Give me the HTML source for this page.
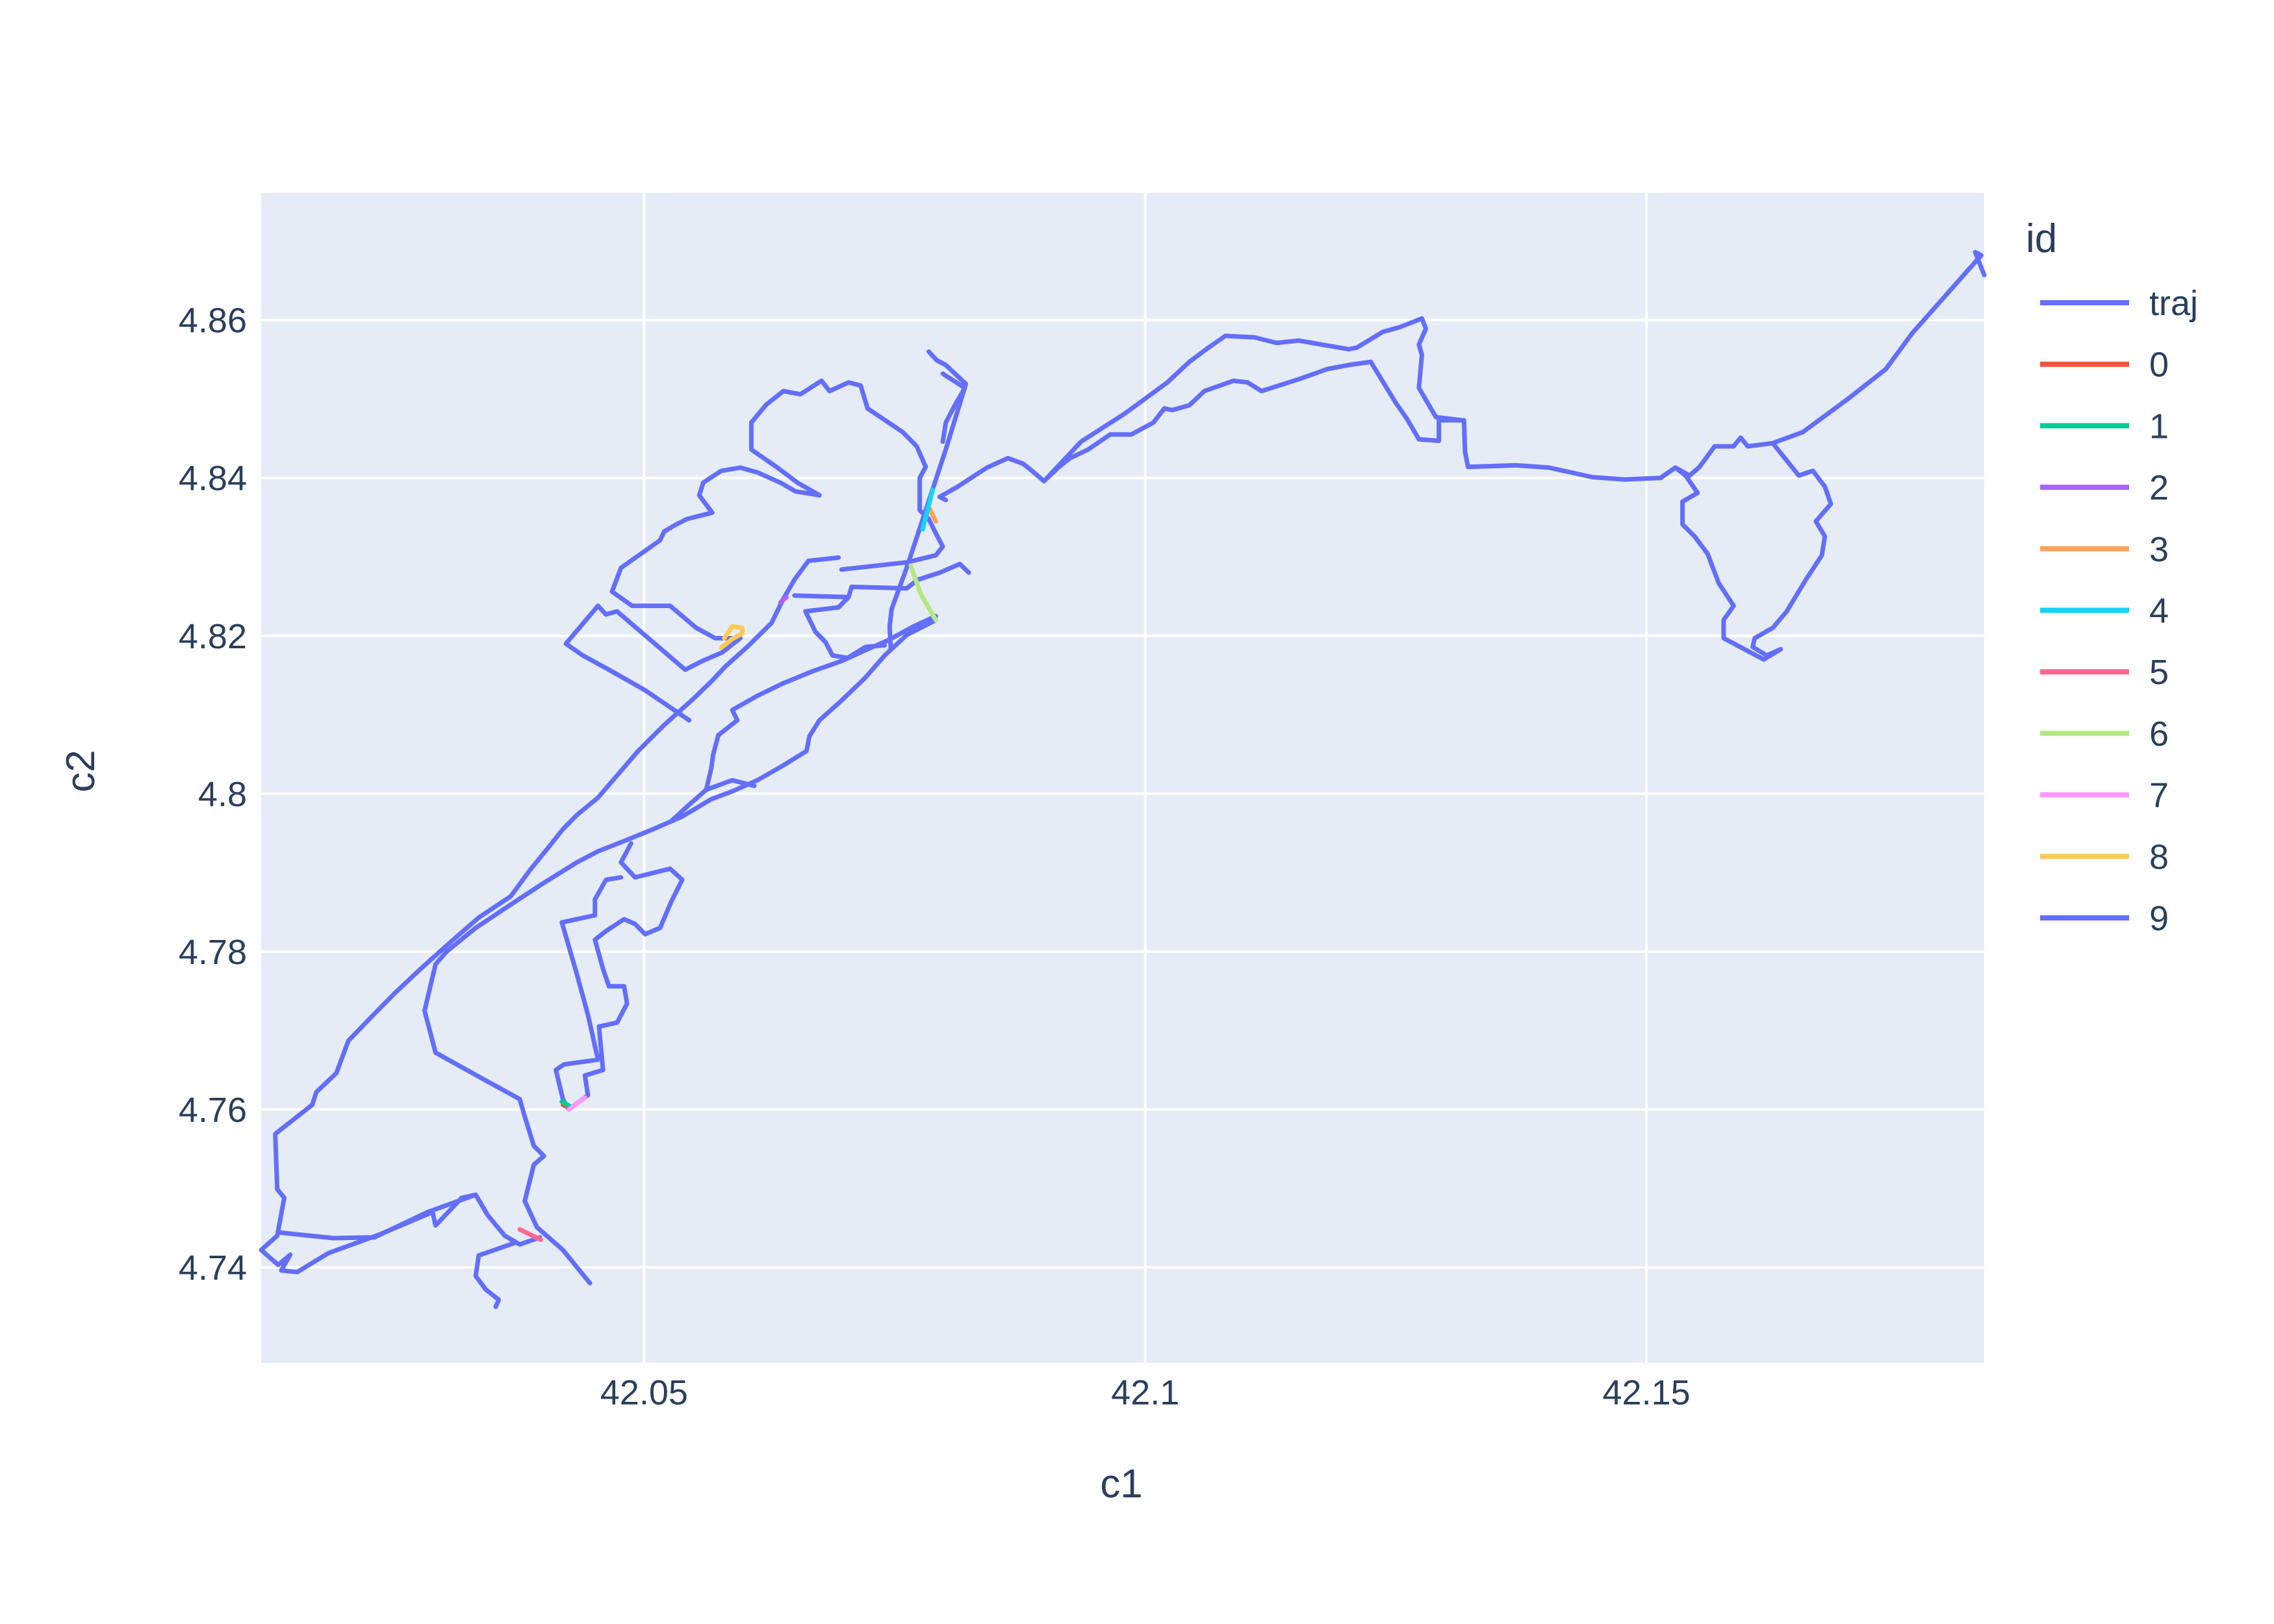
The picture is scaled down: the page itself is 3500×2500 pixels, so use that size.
<!DOCTYPE html>
<html><head><meta charset="utf-8"><style>
html,body{margin:0;padding:0;background:#fff;}
svg{display:block;font-family:"Liberation Sans",sans-serif;}
</style></head><body>
<svg id="chart" width="3500" height="2500" xmlns="http://www.w3.org/2000/svg">
<rect x="402" y="297" width="2652" height="1801" fill="#E5ECF6"/>
<g id="grid"></g>
<g id="xticks"></g>
<g id="yticks"></g>
<g id="series"></g>
<text x="1726" y="2305" font-size="62" fill="#2a3f5f" text-anchor="middle">c1</text>
<text x="145" y="1187" font-size="62" fill="#2a3f5f" text-anchor="middle" transform="rotate(-90 145 1187)">c2</text>
<text x="3118" y="388" font-size="62" fill="#2a3f5f">id</text>
<g id="legend"></g>
</svg>
<script>
const xTicks=[42.05,42.1,42.15];
const xTickLabels=["42.05","42.1","42.15"];
const yTicks=[4.74,4.76,4.78,4.8,4.82,4.84,4.86];
const yTickLabels=["4.74","4.76","4.78","4.8","4.82","4.84","4.86"];
const legendIds=["traj","0","1","2","3","4","5","6","7","8","9"];
const legendColors=["#636efa","#EF553B","#00cc96","#ab63fa","#FFA15A","#19d3f3","#FF6692","#B6E880","#FF97FF","#FECB52","#636efa"];

const trajEast=[[42.1837,4.8657],[42.1828,4.8686],[42.1834,4.8682],[42.1797,4.8629],[42.1765,4.8583],[42.1739,4.8538],[42.1702,4.8501],[42.1656,4.8458],[42.1626,4.8444],[42.1652,4.8403],[42.1666,4.8409],[42.1678,4.8389],[42.1684,4.8367],[42.1669,4.8345],[42.1678,4.8326],[42.1675,4.8302],[42.1659,4.8271],[42.1640,4.8231],[42.1626,4.8210],[42.1608,4.8197],[42.1606,4.8186],[42.1620,4.8175],[42.1634,4.8183],[42.1617,4.8170],[42.1577,4.8197],[42.1577,4.8220],[42.1587,4.8238],[42.1572,4.8267],[42.1561,4.8304],[42.1548,4.8326],[42.1536,4.8341],[42.1536,4.8370],[42.1551,4.8381],[42.1539,4.8403],[42.1529,4.8413],[42.1514,4.8400],[42.1478,4.8398],[42.1446,4.8401],[42.1403,4.8413],[42.1370,4.8416],[42.1322,4.8414],[42.1319,4.8433],[42.1318,4.8473],[42.1293,4.8473],[42.1293,4.8447],[42.1273,4.8449],[42.1261,4.8475],[42.1250,4.8495],[42.1225,4.8547],[42.1203,4.8543],[42.1182,4.8538],[42.1153,4.8525],[42.1116,4.8510],[42.1102,4.8521],[42.1088,4.8523],[42.1059,4.8510],[42.1044,4.8492],[42.1027,4.8486],[42.1019,4.8488],[42.1008,4.8470],[42.0986,4.8455],[42.0965,4.8455],[42.0943,4.8436],[42.0925,4.8425],[42.0914,4.8414],[42.0899,4.8396],[42.0885,4.8411],[42.0878,4.8418],[42.0863,4.8425],[42.0842,4.8413],[42.0813,4.8389],[42.0795,4.8376]];
const trajEastLink=[[42.1514,4.8400],[42.1529,4.8413],[42.1543,4.8403],[42.1553,4.8414],[42.1568,4.8440],[42.1587,4.8440],[42.1594,4.8451],[42.1601,4.8440],[42.1626,4.8444]];
const trajCoast=[[42.0899,4.8396],[42.0936,4.8446],[42.0979,4.8481],[42.1022,4.8521],[42.1044,4.8547],[42.1063,4.8565],[42.1080,4.8580],[42.1109,4.8578],[42.1131,4.8571],[42.1153,4.8574],[42.1203,4.8563],[42.1211,4.8565],[42.1237,4.8585],[42.1254,4.8591],[42.1276,4.8602],[42.1280,4.8589],[42.1273,4.8569],[42.1276,4.8556],[42.1273,4.8514],[42.1290,4.8477],[42.1316,4.8473]];
const trajNorthLine=[[42.0784,4.8560],[42.0792,4.8549],[42.0801,4.8543],[42.0821,4.8519],[42.0801,4.8436],[42.0781,4.8359],[42.0762,4.8286],[42.0747,4.8234],[42.0745,4.8212],[42.0746,4.8185]];
const trajNorthSpur=[[42.0798,4.8532],[42.0820,4.8514],[42.0810,4.8492],[42.0801,4.8470],[42.0798,4.8446]];
const trajNorthBlob=[[42.0697,4.8284],[42.0762,4.8293],[42.0791,4.8302],[42.0798,4.8313],[42.0791,4.8330],[42.0784,4.8348],[42.0775,4.8359],[42.0775,4.8400],[42.0781,4.8414],[42.0772,4.8440],[42.0758,4.8458],[42.0723,4.8488],[42.0716,4.8517],[42.0704,4.8521],[42.0685,4.8510],[42.0677,4.8523],[42.0656,4.8506],[42.0639,4.8510],[42.0622,4.8493],[42.0607,4.8470],[42.0607,4.8436],[42.0632,4.8414],[42.0653,4.8394],[42.0675,4.8378],[42.0651,4.8383],[42.0636,4.8394],[42.0613,4.8407],[42.0596,4.8413],[42.0577,4.8409],[42.0559,4.8394],[42.0555,4.8378],[42.0568,4.8356],[42.0543,4.8348],[42.0532,4.8341],[42.0520,4.8332],[42.0516,4.8321],[42.0477,4.8286],[42.0468,4.8256],[42.0488,4.8238],[42.0526,4.8238],[42.0552,4.8210],[42.0571,4.8197],[42.0588,4.8197]];
const trajWestLoop=[[42.0596,4.8197],[42.0578,4.8179],[42.0558,4.8168],[42.0541,4.8157],[42.0473,4.8231],[42.0462,4.8227],[42.0454,4.8238],[42.0422,4.8190],[42.0439,4.8175],[42.0465,4.8157],[42.0501,4.8131],[42.0545,4.8093]];
const trajNorthwest=[[42.0694,4.8299],[42.0664,4.8295],[42.0650,4.8271],[42.0639,4.8247],[42.0627,4.8216],[42.0603,4.8186],[42.0581,4.8161],[42.0567,4.8142],[42.0549,4.8120],[42.0520,4.8087],[42.0494,4.8054],[42.0473,4.8023],[42.0454,4.7995],[42.0433,4.7973],[42.0419,4.7955],[42.0404,4.7931],[42.0386,4.7903],[42.0367,4.7870],[42.0335,4.7843],[42.0306,4.7811],[42.0277,4.7778],[42.0251,4.7747],[42.0227,4.7716],[42.0205,4.7687],[42.0193,4.7646],[42.0173,4.7622],[42.0169,4.7606],[42.0132,4.7569],[42.0134,4.7499],[42.0141,4.7488],[42.0134,4.7440],[42.0118,4.7422],[42.0135,4.7403],[42.0147,4.7416],[42.0138,4.7396],[42.0154,4.7394],[42.0185,4.7418],[42.0237,4.7442],[42.0289,4.7470],[42.0292,4.7453],[42.0318,4.7488],[42.0332,4.7492],[42.0344,4.7466],[42.0361,4.7440],[42.0376,4.7429],[42.0396,4.7438]];
const trajSouthwest=[[42.0137,4.7444],[42.0190,4.7437],[42.0231,4.7438],[42.0284,4.7470],[42.0332,4.7492]];
const trajSpur=[[42.0371,4.7431],[42.0335,4.7415],[42.0332,4.7389],[42.0342,4.7372],[42.0355,4.7359],[42.0352,4.7350]];
const trajSouth=[[42.0791,4.8220],[42.0762,4.8201],[42.0740,4.8175],[42.0720,4.8146],[42.0697,4.8118],[42.0675,4.8093],[42.0665,4.8073],[42.0662,4.8054],[42.0639,4.8036],[42.0613,4.8017],[42.0588,4.8003],[42.0567,4.7993],[42.0538,4.7971],[42.0509,4.7955],[42.0480,4.7940],[42.0454,4.7927],[42.0433,4.7913],[42.0400,4.7887],[42.0364,4.7857],[42.0332,4.7830],[42.0303,4.7800],[42.0292,4.7784],[42.0281,4.7725],[42.0292,4.7672],[42.0323,4.7650],[42.0376,4.7613],[42.0381,4.7591],[42.0390,4.7554],[42.0400,4.7541],[42.0390,4.7530],[42.0381,4.7484],[42.0393,4.7451],[42.0419,4.7422],[42.0446,4.7380]];
const trajCentral=[[42.0791,4.8225],[42.0769,4.8212],[42.0743,4.8194],[42.0723,4.8183],[42.0697,4.8168],[42.0668,4.8155],[42.0639,4.8140],[42.0613,4.8124],[42.0588,4.8106],[42.0593,4.8093],[42.0574,4.8074],[42.0569,4.8050],[42.0567,4.8032],[42.0562,4.8005],[42.0545,4.7986],[42.0526,4.7964]];
const trajBranch=[[42.0562,4.8005],[42.0588,4.8017],[42.0610,4.8010]];
const trajMidRect=[[42.0650,4.8251],[42.0704,4.8249],[42.0707,4.8262],[42.0762,4.8260],[42.0773,4.8271],[42.0795,4.8280],[42.0815,4.8291],[42.0824,4.8280]];
const trajMidLower=[[42.0704,4.8249],[42.0694,4.8236],[42.0661,4.8231],[42.0671,4.8205],[42.0681,4.8192],[42.0688,4.8175],[42.0703,4.8172],[42.0721,4.8186],[42.0740,4.8188]];
const trajFinger=[[42.0487,4.7937],[42.0477,4.7913],[42.0491,4.7894],[42.0526,4.7905],[42.0538,4.7891],[42.0527,4.7863],[42.0516,4.7830],[42.0501,4.7822],[42.0491,4.7835],[42.0480,4.7841],[42.0462,4.7826],[42.0451,4.7815],[42.0459,4.7778],[42.0465,4.7756],[42.0480,4.7756],[42.0483,4.7734],[42.0473,4.7710],[42.0455,4.7705],[42.0459,4.7650],[42.0441,4.7643],[42.0444,4.7618],[42.0425,4.7600],[42.0419,4.7613],[42.0412,4.7650],[42.0420,4.7657],[42.0454,4.7663],[42.0444,4.7720],[42.0433,4.7771],[42.0418,4.7837],[42.0451,4.7846],[42.0451,4.7866],[42.0462,4.7891],[42.0477,4.7894]];
const seg0=[[42.0419,4.7606],[42.0422,4.7604]];
const seg1=[[42.0418,4.7610],[42.0426,4.7604]];
const seg2=[[42.0636,4.8242],[42.0642,4.8249]];
const seg3=[[42.0784,4.8363],[42.0791,4.8345]];
const seg4=[[42.0788,4.8385],[42.0778,4.8335]];
const seg5=[[42.0376,4.7448],[42.0397,4.7435]];
const seg6=[[42.0766,4.8289],[42.0776,4.8253],[42.0791,4.8220]];
const seg7=[[42.0425,4.7600],[42.0441,4.7615]];
const seg8=[[42.0577,4.8185],[42.0588,4.8196],[42.0598,4.8203],[42.0598,4.8210],[42.0588,4.8212],[42.0580,4.8197]];
const seg9=[[42.0795,4.8376],[42.0801,4.8372]];

const X0=402,X1=3054,Y0=297,Y1=2098;
const C1MIN=42.0118,C1MAX=42.1837,C2MIN=4.7279,C2MAX=4.8761;
function xs(v){return X0+(v-C1MIN)/(C1MAX-C1MIN)*(X1-X0);}
function ys(v){return Y1-(v-C2MIN)/(C2MAX-C2MIN)*(Y1-Y0);}
const NS="http://www.w3.org/2000/svg";
function mk(t,a){const e=document.createElementNS(NS,t);for(const k in a)e.setAttribute(k,a[k]);return e;}
const grid=document.getElementById('grid');
xTicks.forEach((v,i)=>{
  const l=mk('line',{x1:xs(v),x2:xs(v),y1:Y0,y2:Y1,stroke:'#fff','stroke-width':4});
  
  
  grid.appendChild(l);
  const t=mk('text',{x:xs(v),y:2162,'font-size':54,fill:'#2a3f5f','text-anchor':'middle'});
  
  
  t.textContent=xTickLabels[i];
  document.getElementById('xticks').appendChild(t);
});
yTicks.forEach((v,i)=>{
  const l=mk('line',{x1:X0,x2:X1,y1:ys(v),y2:ys(v),stroke:'#fff','stroke-width':4});
  
  
  grid.appendChild(l);
  const t=mk('text',{x:380,y:ys(v)+19,'font-size':54,fill:'#2a3f5f','text-anchor':'end'});
  
  
  t.textContent=yTickLabels[i];
  document.getElementById('yticks').appendChild(t);
});
const series=document.getElementById('series');
function drawLine(pts,color,name){
  const d=pts.map((p,i)=>(i?'L':'M')+xs(p[0]).toFixed(1)+' '+ys(p[1]).toFixed(1)).join(' ');
  const p=mk('path',{d:d,fill:'none',stroke:color,'stroke-width':7,'stroke-linejoin':'round','stroke-linecap':'round'});
  
  
  series.appendChild(p);
}
[trajEast,trajEastLink,trajCoast,trajNorthLine,trajNorthSpur,trajNorthBlob,trajWestLoop,trajNorthwest,trajSouthwest,trajSpur,trajSouth,trajCentral,trajBranch,trajMidRect,trajMidLower,trajFinger].forEach(s=>drawLine(s,legendColors[0],'traj-line'));
[seg0,seg1,seg2,seg3,seg4,seg5,seg6,seg7,seg8,seg9].forEach((s,i)=>drawLine(s,legendColors[i+1],'segment-'+i));
const lg=document.getElementById('legend');
legendIds.forEach((id,i)=>{
  const y=466+i*94.7;
  const g=mk('g',{});
  
  
  g.appendChild(mk('line',{x1:3140,x2:3277,y1:y,y2:y,stroke:legendColors[i],'stroke-width':8}));
  const t=mk('text',{x:3308,y:y+19,'font-size':54,fill:'#2a3f5f'});
  t.textContent=id;
  g.appendChild(t);
  lg.appendChild(g);
});
</script>
</body></html>
